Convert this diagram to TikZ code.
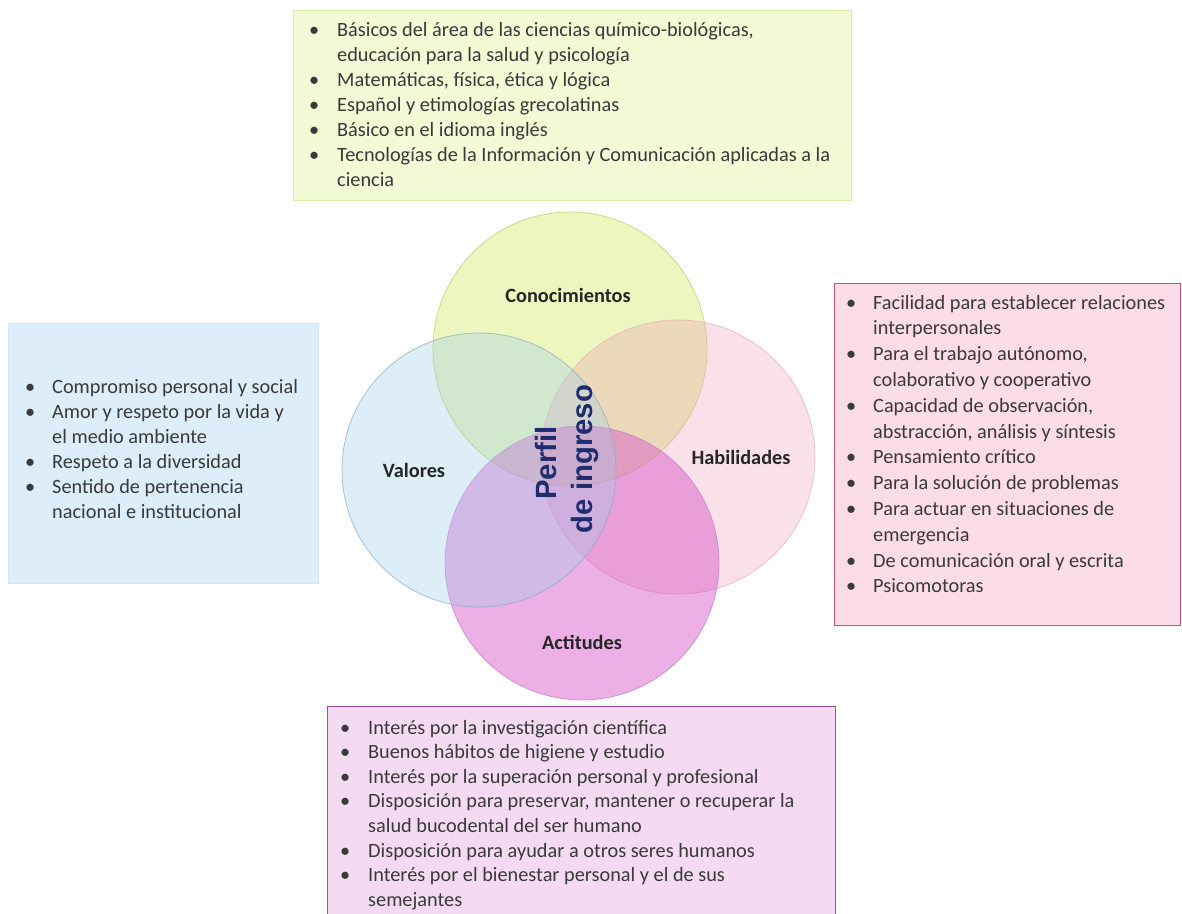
\documentclass[tikz,border=0pt]{standalone}
\usepackage{fontspec}
\setmainfont{Carlito}
\newfontfamily\perfilfont{Liberation Sans}
\definecolor{kfill}{RGB}{201,229,69}
\definecolor{kdraw}{HTML}{B8CC70}
\definecolor{vfill}{RGB}{161,206,238}
\definecolor{vdraw}{HTML}{8EA9BE}
\definecolor{hfill}{RGB}{238,152,178}
\definecolor{hdraw}{HTML}{E3AFC0}
\definecolor{afill}{RGB}{213,79,199}
\definecolor{adraw}{HTML}{C47CC0}
\definecolor{txtcol}{HTML}{3A3A3A}
\definecolor{labcol}{HTML}{262626}
\definecolor{navy}{HTML}{1F2C6E}
\definecolor{kbfill}{HTML}{F3FAD6}
\definecolor{kbdraw}{HTML}{D6EEA4}
\definecolor{vbfill}{HTML}{DDEEFA}
\definecolor{vbdraw}{HTML}{D3E6F3}
\definecolor{hbfill}{HTML}{FBDCE7}
\definecolor{hbdraw}{HTML}{C9556F}
\definecolor{abfill}{HTML}{F4DBF3}
\definecolor{abdraw}{HTML}{9C4D9C}
\newlength{\bulw}
\newcommand{\bl}{\makebox[\bulw][l]{\makebox[10pt][c]{•}}}
\newcommand{\cn}{\hspace*{\bulw}}
\tikzset{
  venn/.style={circle, inner sep=0pt, minimum size=274pt, draw opacity=0.7, line width=0.8pt},
  infobox/.style={rectangle, inner sep=0pt, anchor=north west, line width=1.3pt},
  listtxt/.style={inner sep=0pt, anchor=base west, text=txtcol, font=\fontsize{20.3}{25}\selectfont},
  vlabel/.style={inner sep=0pt, text=labcol, font=\fontsize{20.3}{24}\selectfont\bfseries},
  perfil/.style={inner sep=0pt, rotate=90, text=navy, font=\perfilfont\fontsize{29.3}{33}\selectfont\bfseries}
}
\begin{document}
\begin{tikzpicture}[x=1pt,y=-1pt]
\useasboundingbox (0,0) rectangle (1182,913);
\clip (0,0) rectangle (1182,913);
% info boxes
\node[infobox, fill=kbfill, draw=kbdraw, minimum width=558pt, minimum height=190pt] (kbox) at (293,10) {};
\node[infobox, fill=vbfill, draw=vbdraw, minimum width=310pt, minimum height=260pt] (vbox) at (8,323) {};
\node[infobox, fill=hbfill, draw=hbdraw, minimum width=346pt, minimum height=342pt] (hbox) at (834,283) {};
\node[infobox, fill=abfill, draw=abdraw, minimum width=508pt, minimum height=240pt] (abox) at (327,706) {};
% texts
\node[listtxt] (ktxt) at (309,36) {\parbox[t]{540pt}{\setlength{\bulw}{28pt}%
\bl Básicos del área de las ciencias químico-biológicas,\\
\cn educación para la salud y psicología\\
\bl Matemáticas, física, ética y lógica\\
\bl Español y etimologías grecolatinas\\
\bl Básico en el idioma inglés\\
\bl Tecnologías de la Información y Comunicación aplicadas a la\\
\cn ciencia}};
\node[listtxt] (vtxt) at (25,393) {\parbox[t]{300pt}{\setlength{\bulw}{27pt}%
\bl Compromiso personal y social\\
\bl Amor y respeto por la vida y\\
\cn el medio ambiente\\
\bl Respeto a la diversidad\\
\bl Sentido de pertenencia\\
\cn nacional e institucional}};
\node[listtxt, font=\fontsize{20.3}{25.8}\selectfont] (htxt) at (846,309) {\parbox[t]{330pt}{\setlength{\bulw}{27pt}%
\bl Facilidad para establecer relaciones\\
\cn interpersonales\\
\bl Para el trabajo autónomo,\\
\cn colaborativo y cooperativo\\
\bl Capacidad de observación,\\
\cn abstracción, análisis y síntesis\\
\bl Pensamiento crítico\\
\bl Para la solución de problemas\\
\bl Para actuar en situaciones de\\
\cn emergencia\\
\bl De comunicación oral y escrita\\
\bl Psicomotoras}};
\node[listtxt, font=\fontsize{20.3}{24.6}\selectfont] (atxt) at (340,734) {\parbox[t]{490pt}{\setlength{\bulw}{28pt}%
\bl Interés por la investigación científica\\
\bl Buenos hábitos de higiene y estudio\\
\bl Interés por la superación personal y profesional\\
\bl Disposición para preservar, mantener o recuperar la\\
\cn salud bucodental del ser humano\\
\bl Disposición para ayudar a otros seres humanos\\
\bl Interés por el bienestar personal y el de sus\\
\cn semejantes}};
% venn circles
\node[venn, fill=kfill, fill opacity=0.35, draw=kdraw] (cono) at (570,349) {};
\node[venn, fill=hfill, fill opacity=0.3, draw=hdraw] (habi) at (678,457) {};
\node[venn, fill=afill, fill opacity=0.45, draw=adraw] (acti) at (582,563) {};
\node[venn, fill=vfill, fill opacity=0.35, draw=vdraw] (valo) at (479,470) {};
% labels
\node[vlabel] (lcono) at (568,295) {Conocimientos};
\node[vlabel] (lvalo) at (414,470) {Valores};
\node[vlabel] (lhabi) at (741,457) {Habilidades};
\node[vlabel] (lacti) at (582,642) {Actitudes};
\node[perfil] (perf1) at (546,463) {Perfil};
\node[perfil] (perf2) at (585,459) {de ingreso};
\end{tikzpicture}
\end{document}
